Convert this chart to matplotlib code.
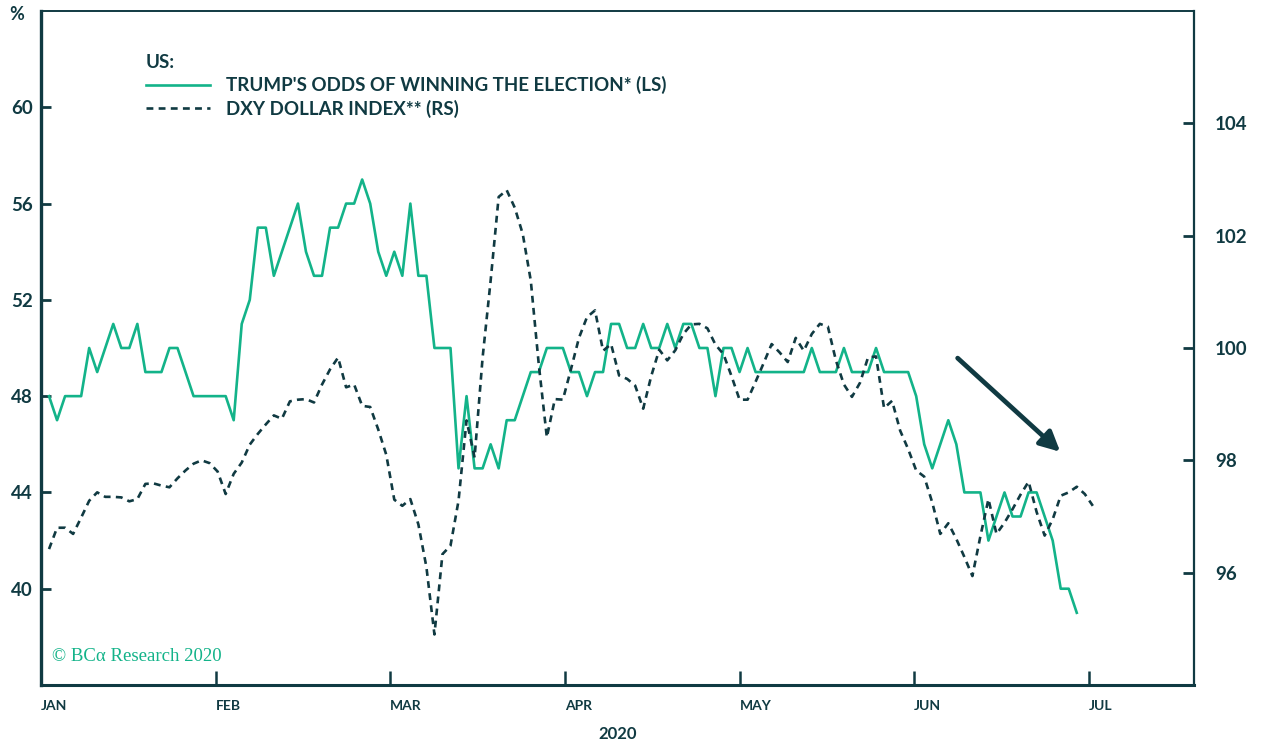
import numpy as np
import matplotlib
matplotlib.use("Agg")
import matplotlib.pyplot as plt
from matplotlib.lines import Line2D

# trading-day series, Jan 2 2020 onwards
trump_odds = [48, 47, 48, 48, 48, 50, 49, 50, 51, 50, 50, 51, 49, 49, 49, 50, 50, 49, 48, 48,
              48, 48, 48, 47, 51, 52, 55, 55, 53, 54, 55, 56, 54, 53, 53, 55, 55, 56, 56, 57,
              56, 54, 53, 54, 53, 56, 53, 53, 50, 50, 50, 45, 48, 45, 45, 46, 45, 47, 47, 48,
              49, 49, 50, 50, 50, 49, 49, 48, 49, 49, 51, 51, 50, 50, 51, 50, 50, 51, 50, 51,
              51, 50, 50, 48, 50, 50, 49, 50, 49, 49, 49, 49, 49, 49, 49, 50, 49, 49, 49, 50,
              49, 49, 49, 50, 49, 49, 49, 49, 48, 46, 45, 46, 47, 46, 44, 44, 44, 42, 43, 44,
              43, 43, 44, 44, 43, 42, 40, 40, 39]

dxy = [96.42, 96.80, 96.80, 96.69, 96.98, 97.28, 97.43, 97.35, 97.35, 97.34,
       97.27, 97.31, 97.58, 97.59, 97.55, 97.52, 97.68, 97.82, 97.94, 98.00,
       97.95, 97.80, 97.40, 97.76, 97.96, 98.28, 98.47, 98.64, 98.80, 98.74,
       99.05, 99.08, 99.09, 99.03, 99.35, 99.62, 99.83, 99.30, 99.35, 98.97,
       98.95, 98.55, 98.10, 97.30, 97.19, 97.31, 96.86, 96.10, 94.90, 96.33,
       96.48, 97.28, 98.71, 98.05, 99.83, 101.20, 102.69, 102.81, 102.50, 102.03,
       101.20, 99.70, 98.41, 99.09, 99.08, 99.62, 100.18, 100.55, 100.67, 99.95,
       100.07, 99.51, 99.45, 99.33, 98.92, 99.50, 99.97, 99.78, 99.96, 100.25,
       100.42, 100.43, 100.35, 100.06, 99.89, 99.50, 99.08, 99.08, 99.40, 99.73,
       100.07, 99.92, 99.75, 100.18, 99.95, 100.25, 100.43, 100.38, 99.78, 99.35,
       99.13, 99.38, 99.83, 99.85, 98.93, 99.06, 98.53, 98.20, 97.82, 97.71,
       97.25, 96.69, 96.88, 96.60, 96.28, 95.94, 96.65, 97.31, 96.69, 96.89,
       97.13, 97.39, 97.62, 97.08, 96.66, 96.95, 97.37, 97.43, 97.53, 97.40,
       97.19]

months = ["JAN", "FEB", "MAR", "APR", "MAY", "JUN", "JUL"]
month_ticks = -1 + 21.75 * np.arange(len(months))

GREEN = "#13b389"
DARK = "#103a42"
DASH = (0, (2.6, 2.0))

plt.rcParams["font.family"] = ["Lato", "DejaVu Sans"]

fig = plt.figure(figsize=(12.66, 7.42), dpi=100)
ax = fig.add_axes([41 / 1266, 1 - 685 / 742, (1194 - 41) / 1266, (685 - 11) / 742])
ax2 = ax.twinx()

ax.plot(np.arange(len(trump_odds)), trump_odds, color=GREEN, lw=1.9, zorder=3)
ax2.plot(np.arange(len(dxy)), dxy, color=DARK, lw=1.9, linestyle=DASH)

ax.set_xlim(-1, 142.6)
ax.set_ylim(36, 64)
ax2.set_ylim(94, 106)
ax.set_yticks(np.arange(40, 61, 4))
ax2.set_yticks(np.arange(96, 105, 2))
ax.set_xticks(month_ticks)
ax.set_xticklabels(months, ha="left")

for a in (ax, ax2):
    for s in a.spines.values():
        s.set_color(DARK)
ax.spines["left"].set_linewidth(2.4)
ax.spines["bottom"].set_linewidth(2.2)
ax.spines["top"].set_linewidth(1.4)
ax2.spines["right"].set_linewidth(1.6)
ax2.spines["left"].set_visible(False)
ax2.spines["bottom"].set_visible(False)
ax2.spines["top"].set_visible(False)
ax.spines["right"].set_visible(False)

ax.tick_params(axis="y", direction="in", length=7.5, width=2, colors=DARK, pad=6,
               labelsize=13.5)
ax.tick_params(axis="x", direction="in", length=10, width=1.8, colors=DARK, pad=11,
               labelsize=10)
ax2.tick_params(axis="y", direction="in", length=8, width=2, colors=DARK, pad=15,
                labelsize=13.5)
for lab in ax.get_yticklabels() + ax.get_xticklabels() + ax2.get_yticklabels():
    lab.set_fontweight("bold")

ax.set_xlabel("2020", fontsize=12, fontweight="bold", color=DARK, labelpad=10)
fig.text(17 / 1266, 1 - 15 / 742, "%", fontsize=13, fontweight="bold", color=DARK,
         ha="center", va="center")

handles = [Line2D([], [], color=GREEN, lw=1.9),
           Line2D([], [], color=DARK, lw=1.9, linestyle=DASH)]
leg = ax.legend(handles, ["TRUMP'S ODDS OF WINNING THE ELECTION* (LS)",
                          "DXY DOLLAR INDEX** (RS)"],
                title="US:", loc="upper left", bbox_to_anchor=(0.0845, 0.948),
                frameon=False, alignment="left", handlelength=3.4, handletextpad=0.85,
                labelspacing=0.3, borderaxespad=0, fontsize=13.5,
                title_fontproperties={"size": 13.5, "weight": "bold"})
leg.get_title().set_color(DARK)
for t in leg.get_texts():
    t.set_color(DARK)
    t.set_fontweight("bold")

ax.annotate("", xy=(0.884, 0.346), xytext=(0.795, 0.485), xycoords="axes fraction",
            arrowprops=dict(arrowstyle="-|>,head_length=1.2,head_width=0.6",
                            color=DARK, lw=3.4, shrinkA=0, shrinkB=0))

ax.text(0.0095, 0.043, "© BCα Research 2020", transform=ax.transAxes, color=GREEN,
        fontsize=13.5, family=["Liberation Serif", "DejaVu Serif"], ha="left", va="center")

fig.savefig("out.png", dpi=100)
